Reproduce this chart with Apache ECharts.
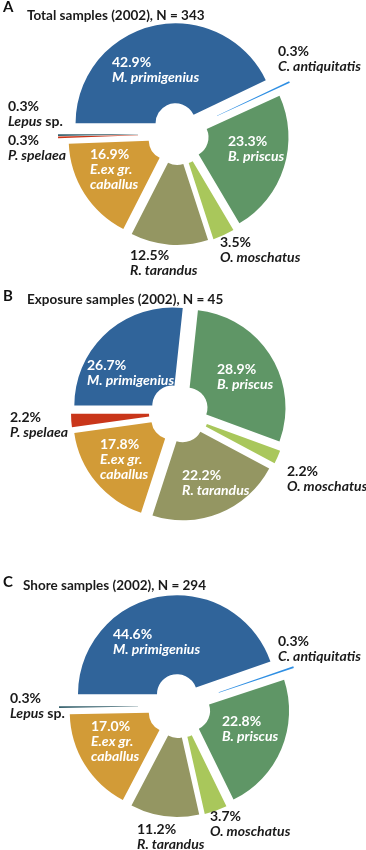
<!DOCTYPE html>
<html>
<head>
<meta charset="utf-8">
<script src="https://cdn.jsdelivr.net/npm/echarts@6/dist/echarts.min.js"></script>
<style>
html,body{margin:0;padding:0;background:#ffffff;}
#chart{width:366px;height:850px;}
</style>
</head>
<body>
<div id="chart"></div>
<script>
// ---------- data ----------
const panelLetters = ['A', 'B', 'C'];
const panelTitles = ['Total samples (2002), N = 343', 'Exposure samples (2002), N = 45', 'Shore samples (2002), N = 294'];

const speciesA = ['M. primigenius', 'C. antiquitatis', 'B. priscus', 'O. moschatus', 'R. tarandus', 'E.ex gr. caballus', 'P. spelaea', 'Lepus sp.'];
const percentA = [42.9, 0.3, 23.3, 3.5, 12.5, 16.9, 0.3, 0.3];

const speciesB = ['M. primigenius', 'B. priscus', 'O. moschatus', 'R. tarandus', 'E.ex gr. caballus', 'P. spelaea'];
const percentB = [26.7, 28.9, 2.2, 22.2, 17.8, 2.2];

const speciesC = ['M. primigenius', 'C. antiquitatis', 'B. priscus', 'O. moschatus', 'R. tarandus', 'E.ex gr. caballus', 'Lepus sp.'];
const percentC = [44.6, 0.3, 22.8, 3.7, 11.2, 17.0, 0.3];

// ---------- styles / layout (kept apart from the data) ----------
const speciesColor = {
  'M. primigenius': '#30649a',
  'C. antiquitatis': '#2f8fe3',
  'B. priscus': '#5f9666',
  'O. moschatus': '#a9c75b',
  'R. tarandus': '#949662',
  'E.ex gr. caballus': '#d29b37',
  'P. spelaea': '#c9361a',
  'Lepus sp.': '#35606c'
};
// species whose label sits on the slice (white text)
const insideLabelled = {
  A: ['M. primigenius', 'B. priscus', 'E.ex gr. caballus'],
  B: ['M. primigenius', 'B. priscus', 'E.ex gr. caballus', 'R. tarandus'],
  C: ['M. primigenius', 'B. priscus', 'E.ex gr. caballus']
};
const pieLayout = {
  A: { center: [178, 134], radius: [20, 100] },
  B: { center: [179, 413], radius: [20, 98] },
  C: { center: [179, 706], radius: [20, 99] }
};
// explosion distance of every slice (px)
const explodeA = [11, 23, 11, 11, 11, 11, 20, 20];
const explodeB = [10, 10, 10, 10, 10, 10];
const explodeC = [12, 22, 12, 12, 12, 12, 21];
// top-left corner of each label block
const labelPosA = [[112, 55], [278, 44], [228, 134], [220, 235], [130, 248], [90, 147], [8, 133], [8, 99]];
const labelPosB = [[87, 358], [217, 362], [287, 464], [182, 468], [100, 437], [10, 410]];
const labelPosC = [[113, 627], [278, 634], [222, 714], [210, 809], [137, 822], [91, 719], [10, 691]];

const FONT = 'Lato, "Open Sans", sans-serif';
const LABEL_SIZE = 14;

function labelFormatter(name, value) {
  const pct = '{p|' + value.toFixed(1) + '%}';
  if (name === 'E.ex gr. caballus') return pct + '\n{i|E.ex gr.}\n{i|caballus}';
  if (name === 'Lepus sp.') return pct + '\n{i|Lepus}{n| sp.}';
  return pct + '\n{i|' + name + '}';
}

const richStyles = {
  p: { fontFamily: FONT, fontSize: LABEL_SIZE, fontWeight: 'bold', lineHeight: 15, align: 'left' },
  i: { fontFamily: FONT, fontSize: LABEL_SIZE, fontWeight: 'bold', fontStyle: 'italic', lineHeight: 15, align: 'left' },
  n: { fontFamily: FONT, fontSize: LABEL_SIZE, fontWeight: 'bold', lineHeight: 15, align: 'left' }
};

// slices: one pie series per explosion distance (others transparent)
function buildSliceSeries(key, names, values, explode) {
  const groups = Array.from(new Set(explode));
  const layout = pieLayout[key];
  return groups.map(function (off) {
    return {
      type: 'pie',
      center: layout.center,
      radius: layout.radius,
      startAngle: 180,
      clockwise: true,
      avoidLabelOverlap: false,
      selectedMode: 'multiple',
      selectedOffset: off,
      silent: true,
      animation: false,
      emphasis: { disabled: true },
      label: { show: false },
      labelLine: { show: false },
      data: names.map(function (n, i) {
        const mine = explode[i] === off;
        return {
          name: n,
          value: values[i],
          selected: mine,
          itemStyle: { color: mine ? speciesColor[n] : 'rgba(0,0,0,0)', borderWidth: 0 }
        };
      })
    };
  });
}

// labels: a transparent, unselected pie of the same data carrying the texts
function buildLabelSeries(key, names, values, labelPos) {
  const layout = pieLayout[key];
  return {
    type: 'pie',
    center: layout.center,
    radius: layout.radius,
    startAngle: 180,
    clockwise: true,
    z: 5,
    avoidLabelOverlap: false,
    silent: true,
    animation: false,
    emphasis: { disabled: true },
    labelLine: { show: false },
    labelLayout: function (params) {
      const q = labelPos[params.dataIndex];
      return { x: q[0], y: q[1], align: 'left', verticalAlign: 'top' };
    },
    data: names.map(function (n, i) {
      const inside = insideLabelled[key].indexOf(n) >= 0;
      return {
        name: n,
        value: values[i],
        itemStyle: { color: 'rgba(0,0,0,0)', borderWidth: 0 },
        label: {
          show: true,
          position: inside ? 'inside' : 'outside',
          color: inside ? '#ffffff' : '#1a1a1a',
          textBorderWidth: 0,
          formatter: labelFormatter(n, values[i]),
          rich: richStyles
        }
      };
    })
  };
}

const titleTops = [[0, 9], [289, 293], [575, 579]];
const titleLefts = [[3, 27], [3, 27], [3, 23]];
const titles = [];
panelLetters.forEach(function (l, k) {
  titles.push({ text: l, left: titleLefts[k][0], top: titleTops[k][0], padding: 0,
    textStyle: { fontFamily: FONT, fontSize: 15, fontWeight: 'bold', color: '#111111' } });
  titles.push({ text: panelTitles[k], left: titleLefts[k][1], top: titleTops[k][1], padding: 0,
    textStyle: { fontFamily: FONT, fontSize: 13.5, fontWeight: 'bold', color: '#1a1a1a' } });
});

const series = []
  .concat(buildSliceSeries('A', speciesA, percentA, explodeA))
  .concat(buildSliceSeries('B', speciesB, percentB, explodeB))
  .concat(buildSliceSeries('C', speciesC, percentC, explodeC))
  .concat([
    buildLabelSeries('A', speciesA, percentA, labelPosA),
    buildLabelSeries('B', speciesB, percentB, labelPosB),
    buildLabelSeries('C', speciesC, percentC, labelPosC)
  ]);

const chart = echarts.init(document.getElementById('chart'), null, { renderer: 'canvas' });
chart.setOption({
  backgroundColor: '#ffffff',
  animation: false,
  title: titles,
  series: series
});
</script>
</body>
</html>
